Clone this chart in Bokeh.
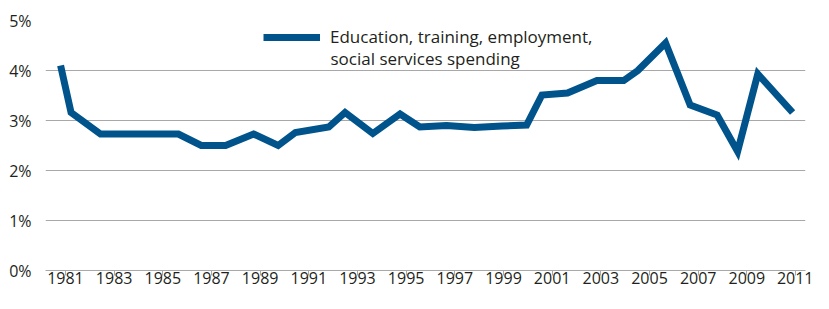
from bokeh.plotting import figure
from bokeh.models import FixedTicker, PrintfTickFormatter, Legend, LegendItem, Range1d, Label
from bokeh.embed import file_html
from bokeh.resources import INLINE

# Data (decimal year positions, share in %)
years = [1980.80, 1981.23, 1982.44, 1983.50, 1984.55, 1985.64, 1986.58, 1987.58,
         1988.73, 1989.74, 1990.45, 1991.82, 1992.49, 1993.63, 1994.75, 1995.56,
         1996.66, 1997.80, 1998.94, 1999.95, 2000.58, 2001.63, 2002.84, 2003.94,
         2004.52, 2005.66, 2006.67, 2007.78, 2008.62, 2009.45, 2010.88]
spending = [4.10, 3.16, 2.73, 2.73, 2.73, 2.73, 2.50, 2.50,
            2.73, 2.50, 2.76, 2.87, 3.16, 2.74, 3.13, 2.87,
            2.90, 2.86, 2.89, 2.91, 3.51, 3.55, 3.80, 3.80,
            4.00, 4.55, 3.31, 3.11, 2.38, 3.93, 3.16]
x_ticks = list(range(1981, 2012, 2))
y_ticks = [0, 1, 2, 3, 4, 5]
label_line1 = "Education, training, employment,"
label_line2 = "social services spending"

LINE_COLOR = "#00548b"
GRID_COLOR = "#a8a8a8"
TEXT_COLOR = "#231f20"
FONT = "Open Sans"

p = figure(width=813, height=293, output_backend="svg", toolbar_location=None,
           x_range=Range1d(1980.18, 2011.41), y_range=Range1d(0, 5),
           min_border_left=45, min_border_right=8, min_border_top=20, min_border_bottom=23)
p.outline_line_color = None
p.background_fill_color = "white"
p.border_fill_color = "white"

p.xgrid.visible = False
p.ygrid.grid_line_color = GRID_COLOR
p.ygrid.grid_line_width = 1
p.ygrid.ticker = FixedTicker(ticks=y_ticks)

p.yaxis.ticker = FixedTicker(ticks=y_ticks)
p.yaxis.formatter = PrintfTickFormatter(format="%d%%")
p.yaxis.axis_line_color = None
p.yaxis.major_tick_line_color = None
p.yaxis.minor_tick_line_color = None
p.yaxis.major_label_standoff = 8
p.yaxis.major_label_text_font = FONT
p.yaxis.major_label_text_font_size = "16px"
p.yaxis.major_label_text_color = TEXT_COLOR

p.xaxis.ticker = FixedTicker(ticks=x_ticks)
p.xaxis.axis_line_color = GRID_COLOR
p.xaxis.axis_line_width = 1
p.xaxis.major_tick_line_color = GRID_COLOR
p.xaxis.major_tick_out = 5
p.xaxis.major_tick_in = 0
p.xaxis.minor_tick_line_color = None
p.xaxis.major_label_standoff = -4
p.xaxis.major_label_text_font = FONT
p.xaxis.major_label_text_font_size = "16px"
p.xaxis.major_label_text_color = TEXT_COLOR

r = p.line(years, spending, line_color=LINE_COLOR, line_width=7, line_join="miter", line_cap="butt")

legend = Legend(items=[LegendItem(label=label_line1, renderers=[r])],
                location=(218, 222), orientation="vertical")
legend.glyph_width = 57
legend.glyph_height = 20
legend.label_standoff = 10
legend.padding = 0
legend.margin = 0
legend.spacing = 0
legend.border_line_color = None
legend.background_fill_alpha = 0
legend.label_text_font = FONT
legend.label_text_font_size = "17px"
legend.label_text_color = TEXT_COLOR
legend.label_text_line_height = 1.3
p.add_layout(legend)

second = Label(x=1991.89, y=4.25, text=label_line2, text_font=FONT, text_font_size="17px",
               text_color=TEXT_COLOR, text_baseline="alphabetic", text_align="left")
p.add_layout(second)

open("out.html", "w").write(file_html(p, INLINE))
